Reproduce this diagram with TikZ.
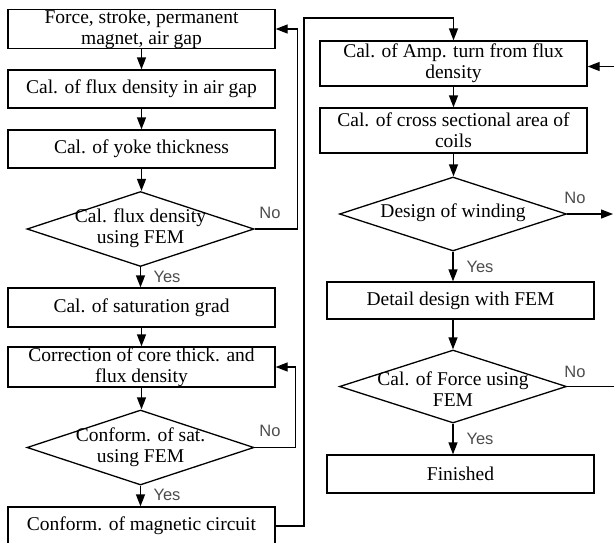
\documentclass[tikz,border=0pt]{standalone}
\usepackage{fontspec}
\setmainfont{Liberation Serif}
\newfontfamily\lblfont{Liberation Sans}
\usetikzlibrary{shapes.geometric,arrows.meta,calc}
\begin{document}
\begin{tikzpicture}[x=1pt,y=-1pt,
 box/.style={draw,line width=1.3pt,minimum width=267pt,inner sep=0pt,align=center,font=\fontsize{19.5}{21}\selectfont},
 dia/.style={draw,diamond,line width=1.3pt,minimum width=227pt,inner sep=0pt},
 diatext/.style={align=center,font=\fontsize{19.5}{21}\selectfont,inner sep=0pt},
 yn/.style={font=\lblfont\fontsize{16.5}{17}\selectfont,text=black!70,inner sep=0pt},
 arr/.style={line width=1.3pt,-{Triangle[length=12pt,width=9pt]}}]
\useasboundingbox (0,0) rectangle (614,542);
% left column
\node[box,minimum height=38pt] (b1) at (141.5,29) {Force, stroke, permanent\\magnet, air gap};
\node[box,minimum height=38pt] (b2) at (141.5,89) {Cal. of flux density in air gap};
\node[box,minimum height=38pt] (b3) at (141.5,149) {Cal. of yoke thickness};
\node[dia,minimum height=75pt] (d1) at (140.5,229) {};
\node[diatext] (d1t) at (140.5,228) {Cal. flux density\\using FEM};
\node[box,minimum height=39pt] (b4) at (141.5,307.5) {Cal. of saturation grad};
\node[box,minimum height=40pt] (b5) at (141.5,367) {Correction of core thick. and\\flux density};
\node[dia,minimum height=75pt] (d2) at (140.5,447.5) {};
\node[diatext] (d2t) at (140.5,447) {Conform. of sat.\\using FEM};
\node[box,minimum height=38pt] (b6) at (141.5,526) {Conform. of magnetic circuit};
% right column
\node[box,minimum height=45pt] (b7) at (453.5,63.5) {Cal. of Amp. turn from flux\\density};
\node[box,minimum height=45pt] (b8) at (453.5,130.5) {Cal. of cross sectional area of\\coils};
\node[dia,minimum height=74pt] (d3) at (453,214) {};
\node[diatext] (d3t) at (453,213) {Design of winding};
\node[box,minimum height=37pt] (b9) at (460.5,300.5) {Detail design with FEM};
\node[dia,minimum height=73pt] (d4) at (453,386.5) {};
\node[diatext] (d4t) at (453,389) {Cal. of Force using\\FEM};
\node[box,minimum height=38pt] (b10) at (460.5,474) {Finished};
% labels
\node[yn] (n1) at (270,213) {No};
\node[yn] (y1) at (167,277) {Yes};
\node[yn] (n2) at (270,431) {No};
\node[yn] (y2) at (167,495) {Yes};
\node[yn] (n3) at (575,198) {No};
\node[yn] (y3) at (480,267) {Yes};
\node[yn] (n4) at (575,372) {No};
\node[yn] (y4) at (480,439) {Yes};
% coordinates
\coordinate (c1) at (304,18);
\coordinate (e3) at (613,214);
\coordinate (e4) at (625,386.5);
% connectors
\draw[arr] (b1.south) -- (b1.south |- b2.north);
\draw[arr] (b2.south) -- (b2.south |- b3.north);
\draw[arr] (b3.south) -- (b3.south |- d1.north);
\draw[arr] (d1.south) -- (d1.south |- b4.north);
\draw[arr] (b4.south) -- (b4.south |- b5.north);
\draw[arr] (b5.south) -- (b5.south |- d2.north);
\draw[arr] (d2.south) -- (d2.south |- b6.north);
\draw[arr] (d1.east) -- ++(43,0) |- (b1.east);
\draw[arr] (d2.east) -- ++(41,0) |- (b5.east);
\draw[arr] (b6.east) -| (c1) -| (b7.north);
\draw[arr] (b7.south) -- (b7.south |- b8.north);
\draw[arr] (b8.south) -- (b8.south |- d3.north);
\draw[arr] (d3.south) -- (d3.south |- b9.north);
\draw[arr] (d3.south |- b9.south) -- (d4.north);
\draw[arr] (d4.south) -- (d4.south |- b10.north);
\draw[arr] (d3.east) -- (e3);
\draw[arr] (d4.east) -- (e4) |- ($(b7.east)+(0,3)$);
\end{tikzpicture}
\end{document}
